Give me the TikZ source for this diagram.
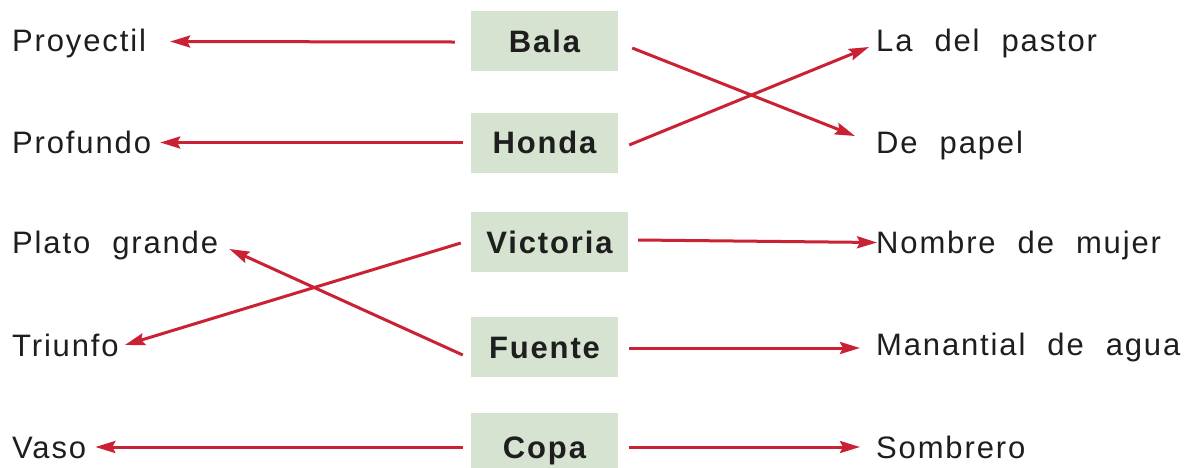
\documentclass[tikz,border=0pt]{standalone}
\usepackage{fontspec}
\setmainfont{Liberation Sans}[LetterSpace=6, WordSpace={2.1}]
\usetikzlibrary{arrows.meta}
\definecolor{boxc}{RGB}{213,227,208}
\definecolor{arr}{RGB}{202,34,52}
\definecolor{txt}{RGB}{30,30,30}
\newcommand{\wfont}{\fontsize{31}{34}\selectfont}
\tikzset{
  word/.style={inner sep=0pt, text height=22pt, text depth=0pt, font=\wfont, text=txt},
  boxnode/.style={fill=boxc, inner sep=0pt, minimum height=60pt, text height=22pt, text depth=0pt, font=\wfont\bfseries, text=txt},
  link/.style={draw=arr, line width=3pt, -{Stealth[length=20pt,width=12pt,inset=3pt]}}
}
\begin{document}
\begin{tikzpicture}[x=1pt,y=-1pt]
\fill[white] (0,0) rectangle (1192,467);
\useasboundingbox (0,0) rectangle (1192,467);
% left words
\node[word,anchor=west] (proy) at (12,40.5) {Proyectil};
\node[word,anchor=west] (prof) at (12,142.5) {Profundo};
\node[word,anchor=west] (plato) at (12,242.5) {Plato grande};
\node[word,anchor=west] (triunfo) at (12,345) {Triunfo};
\node[word,anchor=west] (vaso) at (12,447) {Vaso};
% boxes
\node[boxnode,minimum width=147pt] (bala) at (544.5,41) {Bala};
\node[boxnode,minimum width=147pt] (honda) at (544.5,142.5) {Honda};
\node[boxnode,minimum width=157pt] (vic) at (549.5,242) {Victoria};
\node[boxnode,minimum width=147pt] (fuente) at (544.5,347) {Fuente};
\node[boxnode,minimum width=147pt,minimum height=68pt] (copa) at (544.5,447) {Copa};
% right words
\node[word,anchor=west] (pastor) at (876,40.5) {La del pastor};
\node[word,anchor=west] (papel) at (876,142.5) {De papel};
\node[word,anchor=west] (nombre) at (876,242.5) {Nombre de mujer};
\node[word,anchor=west] (manan) at (876,344.5) {Manantial de agua};
\node[word,anchor=west] (somb) at (876,447) {Sombrero};
% connectors
\draw[link] ([xshift=-16pt,yshift=-1pt]bala.west) -- ([xshift=24pt,yshift=-1pt]proy.east);
\draw[link] ([xshift=-8pt]honda.west) -- ([xshift=9pt]prof.east);
\draw[link] ([xshift=14pt,yshift=-7pt]bala.east) -- ([xshift=-21pt,yshift=6.5pt]papel.west);
\draw[link] ([xshift=11pt,yshift=-2.5pt]honda.east) -- ([xshift=-7pt,yshift=-6.5pt]pastor.west);
\draw[link] ([xshift=-10pt,yshift=-1pt]vic.west) -- ([xshift=6pt]triunfo.east);
\draw[link] ([xshift=-8pt,yshift=-8pt]fuente.west) -- ([xshift=11pt,yshift=-6.5pt]plato.east);
\draw[link] ([xshift=10pt,yshift=2pt]vic.east) -- ([xshift=1pt]nombre.west);
\draw[link] ([xshift=11pt,yshift=-1pt]fuente.east) -- ([xshift=-16pt,yshift=-3.5pt]manan.west);
\draw[link] ([xshift=-8pt]copa.west) -- ([xshift=9pt]vaso.east);
\draw[link] ([xshift=11pt]copa.east) -- ([xshift=-16pt]somb.west);
\end{tikzpicture}
\end{document}
